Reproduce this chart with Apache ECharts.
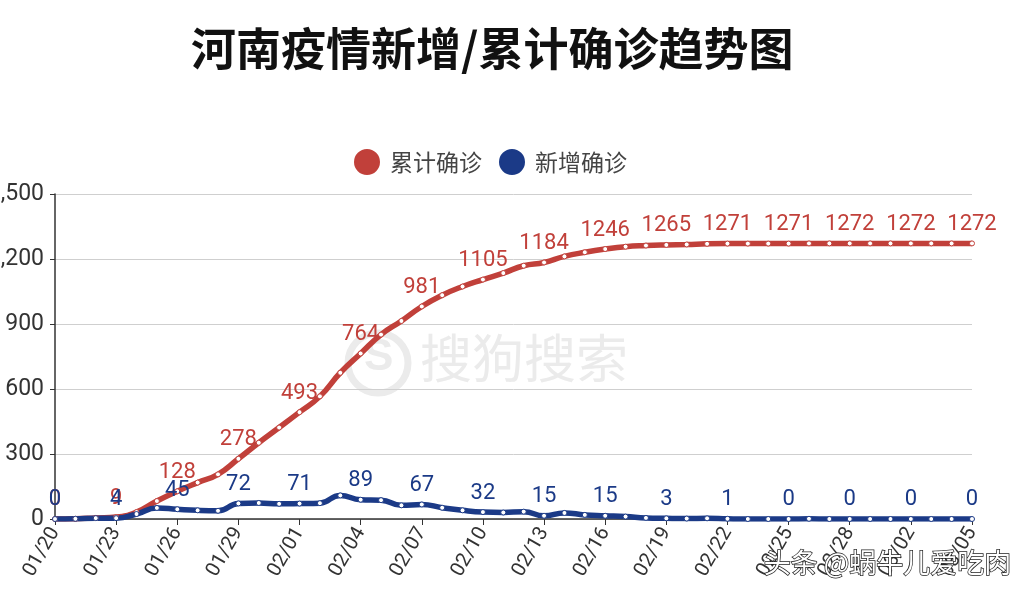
<!DOCTYPE html>
<html>
<head>
<meta charset="utf-8">
<script src="https://cdn.jsdelivr.net/npm/echarts@6/dist/echarts.min.js"></script>
<style>
html,body{margin:0;padding:0;background:#fff;}
#chart{width:1025px;height:594px;}
</style>
</head>
<body>
<div id="chart"></div>
<script>
const dates = ['01/20','01/21','01/22','01/23','01/24','01/25','01/26','01/27','01/28','01/29','01/30','01/31',
  '02/01','02/02','02/03','02/04','02/05','02/06','02/07','02/08','02/09','02/10','02/11','02/12','02/13','02/14',
  '02/15','02/16','02/17','02/18','02/19','02/20','02/21','02/22','02/23','02/24','02/25','02/26','02/27','02/28',
  '02/29','03/01','03/02','03/03','03/04','03/05'];
const cumulative = [0,1,5,9,32,83,128,168,206,278,352,422,
  493,566,675,764,851,914,981,1033,1073,1105,1135,1169,1184,1212,
  1231,1246,1257,1262,1265,1267,1270,1271,1271,1271,1271,1272,1272,1272,
  1272,1272,1272,1272,1272,1272];
const newCases = [0,1,4,4,23,51,45,40,38,72,74,70,
  71,73,109,89,87,63,67,52,40,32,30,34,15,28,
  19,15,11,5,3,2,3,1,0,0,0,1,0,0,
  0,0,0,0,0,0];
const yTicks = [0,300,600,900,1200,1500];

const RED = '#c1403a';
const BLUE = '#1b3a87';
const NUMFONT = "Roboto,'Noto Sans CJK SC',sans-serif";
const CJK = "'Noto Sans CJK SC',sans-serif";

const chart = echarts.init(document.getElementById('chart'));
const labelEvery3 = p => (p.dataIndex % 3 === 0 ? String(p.value) : '');

chart.setOption({
  animation: false,
  textStyle: {fontFamily: NUMFONT},
  title: {
    text: '河南疫情新增/累计确诊趋势图',
    left: 186, top: 21,
    textStyle: {fontSize: 45, fontWeight: 'bold', color: '#111', fontFamily: CJK}
  },
  legend: {
    left: 349, top: 144,
    icon: 'circle', itemWidth: 24, itemHeight: 24, itemGap: 17,
    textStyle: {fontSize: 23, color: '#444', padding: [0, 0, 0, 6], fontFamily: CJK},
    data: [
      {name: '累计确诊', itemStyle: {color: RED}},
      {name: '新增确诊', itemStyle: {color: BLUE}}
    ]
  },
  grid: {left: 55, right: 53, top: 194, bottom: 75, containLabel: false, outerBoundsMode: 'none'},
  xAxis: {
    type: 'category', data: dates, boundaryGap: false,
    axisLine: {lineStyle: {color: '#333', width: 1.5}},
    axisTick: {interval: 2, length: 6, lineStyle: {color: '#333'}},
    axisLabel: {interval: 2, rotate: 60, fontSize: 20, color: '#333', margin: 10}
  },
  yAxis: {
    type: 'value', min: yTicks[0], max: yTicks[yTicks.length - 1], interval: 300,
    axisLine: {show: true, lineStyle: {color: '#333', width: 1.5}},
    axisTick: {show: true, length: 5, lineStyle: {color: '#333'}},
    axisLabel: {fontSize: 23, color: '#333', margin: 11,
      formatter: v => v.toLocaleString('en-US')},
    splitLine: {lineStyle: {color: '#cfcfcf'}}
  },
  graphic: [
    {type: 'circle', shape: {cx: 378, cy: 363, r: 30}, style: {fill: 'none', stroke: '#ebebeb', lineWidth: 7}, z: 0},
    {type: 'text', left: 364, top: 336, style: {text: 'S', font: "bold 44px 'Liberation Sans'", fill: '#ebebeb'}, z: 0},
    {type: 'text', left: 420, top: 332, style: {text: '搜狗搜索', font: "52px 'Noto Sans CJK SC'", fill: '#ebebeb'}, z: 0},
    {type: 'text', left: 763, top: 548, style: {text: '头条 @蜗牛儿爱吃肉', font: "27px 'Noto Sans CJK SC'", fill: '#fff', stroke: '#222', lineWidth: 1.5}, z: 100}
  ],
  series: [
    {
      name: '累计确诊', type: 'line', data: cumulative, smooth: true,
      symbol: 'circle', symbolSize: 5, showAllSymbol: true,
      lineStyle: {color: RED, width: 5.5},
      itemStyle: {color: '#fff', borderColor: RED, borderWidth: 1},
      label: {show: true, position: 'top', distance: 5, fontSize: 22, color: RED, formatter: labelEvery3}
    },
    {
      name: '新增确诊', type: 'line', data: newCases, smooth: true,
      symbol: 'circle', symbolSize: 5, showAllSymbol: true,
      lineStyle: {color: BLUE, width: 5.5},
      itemStyle: {color: '#fff', borderColor: BLUE, borderWidth: 1},
      label: {show: true, position: 'top', distance: 5, fontSize: 22, color: BLUE, formatter: labelEvery3}
    }
  ]
});
</script>
</body>
</html>
